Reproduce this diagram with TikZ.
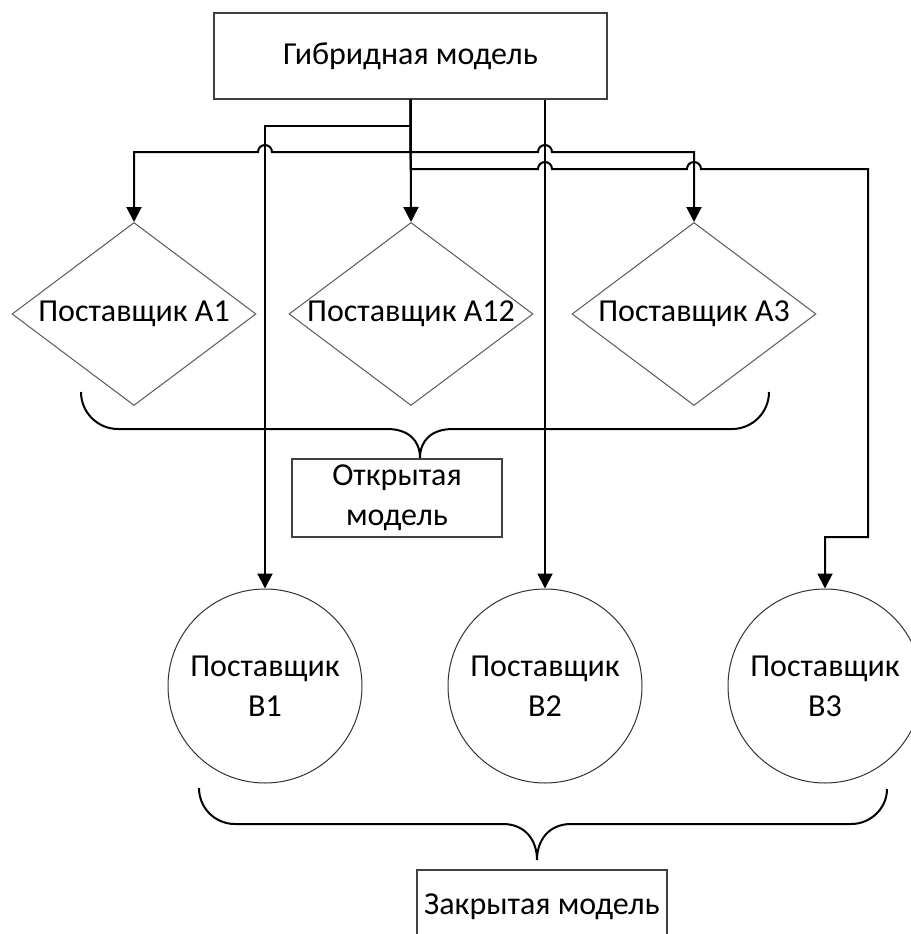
\documentclass[tikz,border=0pt]{standalone}
\usepackage{fontspec}
\setmainfont{Carlito}
\usetikzlibrary{shapes.geometric,arrows.meta}
\tikzset{
  txt/.style={font=\fontsize{32}{40}\selectfont, text=black, align=center},
  rectbox/.style={txt, draw=black!75, line width=1.3pt, rectangle, inner sep=0pt},
  dia/.style={txt, draw=black!65, line width=1pt, diamond, aspect=1.333, minimum width=244pt, minimum height=183pt, inner sep=0pt},
  circ/.style={txt, draw=black!80, line width=1pt, circle, minimum size=194pt, inner sep=0pt},
  conn/.style={draw=black, line width=2pt, -{Triangle[width=15pt,length=15pt]}},
  bracepath/.style={draw=black, line width=2pt}
}
\begin{document}
\begin{tikzpicture}[x=1pt,y=-1pt]
\useasboundingbox (0,0) rectangle (910,934);
\fill[white] (0,0) rectangle (910,934);

\node[rectbox, minimum width=393pt, minimum height=86pt] (hyb) at (410.5,56) {Гибридная модель};

\node[dia] (A1) at (134,314) {\makebox[0pt]{Поставщик A1}};
\node[dia] (A12) at (411,314) {\makebox[0pt]{Поставщик A12}};
\node[dia] (A3) at (694,314) {\makebox[0pt]{Поставщик A3}};

\node[rectbox, minimum width=210pt, minimum height=78pt] (open) at (397,498) {Открытая\\модель};

\node[circ] (B1) at (265,686) {Поставщик\\B1};
\node[circ] (B2) at (545,686) {Поставщик\\B2};
\node[circ] (B3) at (825,686) {Поставщик\\B3};

\node[rectbox, minimum width=250pt, minimum height=74pt] (closed) at (542,907) {Закрытая модель};

% connectors
\draw[conn] (hyb.south) -- (410.5,126) -| (B1.north);
\draw[conn] (hyb.south) -- (410.5,152) -- (272,152)
   arc[start angle=0,end angle=-180,radius=7] -- (134,152) -- (A1.north);
\draw[conn] (hyb.south) -- (410.5,152) -- (538,152)
   arc[start angle=180,end angle=360,radius=7] -- (694,152) -- (A3.north);
\draw[conn] (hyb.south) -- (A12.north);
\draw[conn] (hyb.south) -- (410.5,169) -- (538,169)
   arc[start angle=180,end angle=360,radius=7] -- (687,169)
   arc[start angle=180,end angle=360,radius=7] -- (868,169) -- (868,537) -- (825,537) -- (B3.north);
\draw[conn] (hyb.south -| B2.north) -- (B2.north);

% braces
\draw[bracepath] (81,392) .. controls (81,412.4) and (97.6,429) .. (118,429)
  -- (387,429) .. controls (408,429) and (420,440) .. (420,458)
  .. controls (420,440) and (432,429) .. (453,429)
  -- (732,429) .. controls (752.4,429) and (769,412.4) .. (769,392);
\draw[bracepath] (199,788) .. controls (199,808) and (215,824) .. (235,824)
  -- (503,824) .. controls (525,824) and (537,840) .. (537,860)
  .. controls (537,840) and (549,824) .. (571,824)
  -- (851,824) .. controls (871,824) and (887,808) .. (887,789);
\end{tikzpicture}
\end{document}
